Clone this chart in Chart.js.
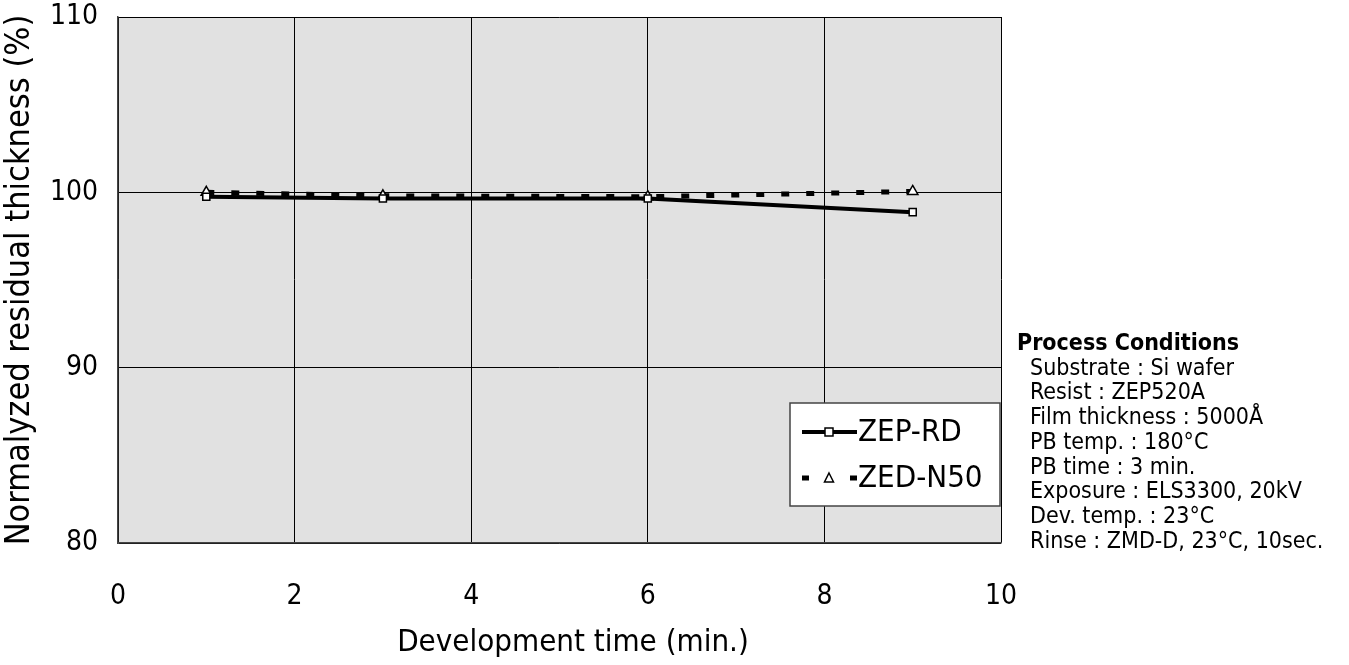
<!DOCTYPE html>
<html lang="en">
<head>
<meta charset="UTF-8">
<title>Normalized residual thickness</title>
<script src="https://cdn.jsdelivr.net/npm/chart.js"></script>
<style>
    body { margin: 0; background: #fff; }
    .wrap { position: relative; width: 1349px; height: 665px; }
    #chart { position: absolute; left: 0; top: 0; }
    .conditions {
        position: absolute;
        left: 1017px;
        top: 330px;
        font-family: 'DejaVu Sans Condensed', 'DejaVu Sans', sans-serif;
        font-size: 23px;
        line-height: 24.7px;
        color: #000;
        white-space: nowrap;
    }
    .conditions b { display: block; }
    .conditions span { display: block; padding-left: 13px; }
</style>
</head>
<body>
<div class="wrap">
    <canvas id="chart" width="1349" height="665"></canvas>
    <div class="conditions" id="conditions"></div>
</div>
<script>
    // development time (min.)
    const times = [1, 3, 6, 9];
    // normalized residual thickness (%)
    const zepRd = [99.75, 99.65, 99.65, 98.87];
    const zedN50 = [100.0, 99.8, 99.75, 100.05];

    const xTicks = [0, 2, 4, 6, 8, 10];
    const yTicks = [80, 90, 100, 110];

    const xTitle = 'Development time (min.)';
    const yTitle = 'Normalyzed residual thickness (%)';

    const conditionsTitle = 'Process Conditions';
    const conditions = [
        'Substrate : Si wafer',
        'Resist : ZEP520A',
        'Film thickness : 5000Å',
        'PB temp. : 180°C',
        'PB time : 3 min.',
        'Exposure : ELS3300, 20kV',
        'Dev. temp. : 23°C',
        'Rinse : ZMD-D, 23°C, 10sec.'
    ];

    const box = document.getElementById('conditions');
    box.innerHTML = '<b>' + conditionsTitle + '</b>' +
        conditions.map(c => '<span>' + c + '</span>').join('');

    const FONT = "'DejaVu Sans Condensed', 'DejaVu Sans', sans-serif";

    // grey plot area
    const plotBg = {
        id: 'plotBg',
        beforeDraw(chart) {
            const { ctx, chartArea: a } = chart;
            ctx.save();
            ctx.fillStyle = '#e1e1e1';
            ctx.fillRect(a.left, a.top, a.right - a.left, a.bottom - a.top);
            ctx.restore();
        }
    };

    // x axis title, centred a bit right of the plot like the original
    const xTitlePlugin = {
        id: 'xTitlePlugin',
        afterDraw(chart) {
            const ctx = chart.ctx;
            ctx.save();
            ctx.fillStyle = '#000';
            ctx.font = '31px ' + FONT;
            ctx.textAlign = 'center';
            ctx.textBaseline = 'middle';
            ctx.fillText(xTitle, 573, 643);
            ctx.restore();
        }
    };

    // legend box inside the plot
    const boxLegend = {
        id: 'boxLegend',
        afterDraw(chart) {
            const ctx = chart.ctx;
            const x0 = 790, y0 = 403, w = 210, h = 103;
            ctx.save();
            ctx.fillStyle = '#fff';
            ctx.fillRect(x0, y0, w, h);
            ctx.strokeStyle = '#444';
            ctx.lineWidth = 1.5;
            ctx.strokeRect(x0, y0, w, h);
            const rows = [432, 478];
            chart.data.datasets.forEach((ds, i) => {
                const y = rows[i];
                ctx.strokeStyle = ds.borderColor;
                ctx.lineWidth = ds.borderWidth;
                ctx.beginPath();
                if (ds.borderDash) {
                    ctx.moveTo(802, y); ctx.lineTo(809, y);
                    ctx.moveTo(850, y); ctx.lineTo(857, y);
                } else {
                    ctx.moveTo(802, y); ctx.lineTo(857, y);
                }
                ctx.stroke();
                ctx.lineWidth = 1.5;
                ctx.fillStyle = '#fff';
                ctx.strokeStyle = '#000';
                if (ds.pointStyle === 'rect') {
                    ctx.fillRect(825, y - 4, 8, 8);
                    ctx.strokeRect(825, y - 4, 8, 8);
                } else {
                    ctx.beginPath();
                    ctx.moveTo(829, y - 5);
                    ctx.lineTo(833.5, y + 4);
                    ctx.lineTo(824.5, y + 4);
                    ctx.closePath();
                    ctx.fill();
                    ctx.stroke();
                }
                ctx.fillStyle = '#000';
                ctx.font = '31px ' + FONT;
                ctx.textBaseline = 'middle';
                ctx.fillText(ds.label, 858, y + 1);
            });
            ctx.restore();
        }
    };

    new Chart(document.getElementById('chart'), {
        type: 'scatter',
        data: {
            datasets: [{
                label: 'ZEP-RD',
                data: times.map((t, i) => ({ x: t, y: zepRd[i] })),
                showLine: true,
                borderColor: '#000',
                borderWidth: 4,
                pointStyle: 'rect',
                pointRadius: 5,
                pointBorderWidth: 1.5,
                pointBackgroundColor: '#fff',
                pointBorderColor: '#000'
            }, {
                label: 'ZED-N50',
                data: times.map((t, i) => ({ x: t, y: zedN50[i] })),
                showLine: true,
                borderColor: '#000',
                borderWidth: 5,
                borderDash: [8, 17],
                pointStyle: 'triangle',
                pointRadius: 6,
                pointBorderWidth: 1.5,
                pointBackgroundColor: '#fff',
                pointBorderColor: '#000'
            }]
        },
        options: {
            responsive: false,
            animation: false,
            layout: { padding: { top: 0, right: 348, left: 0, bottom: 0 } },
            plugins: {
                legend: { display: false },
                tooltip: { enabled: false }
            },
            scales: {
                x: {
                    type: 'linear',
                    min: 0,
                    max: 10,
                    afterBuildTicks: s => { s.ticks = xTicks.map(v => ({ value: v })); },
                    afterFit: s => { s.height = 122; },
                    grid: { color: '#000', lineWidth: 1, drawTicks: false },
                    border: { color: '#444', width: 1.5 },
                    ticks: { color: '#000', font: { family: FONT, size: 28 }, padding: 37 },
                    title: { display: false }
                },
                y: {
                    min: 80,
                    max: 110,
                    afterBuildTicks: s => { s.ticks = yTicks.map(v => ({ value: v })); },
                    afterFit: s => { s.width = 118; s.paddingTop = 17; s.paddingBottom = 0; },
                    grid: { color: '#000', lineWidth: 1, drawTicks: false },
                    border: { color: '#444', width: 1.5 },
                    ticks: { color: '#000', font: { family: FONT, size: 28 }, padding: 20 },
                    title: {
                        display: true,
                        text: yTitle,
                        color: '#000',
                        font: { family: FONT, size: 34 },
                        padding: { top: 0, bottom: 16 }
                    }
                }
            }
        },
        plugins: [plotBg, boxLegend, xTitlePlugin]
    });
</script>
</body>
</html>
